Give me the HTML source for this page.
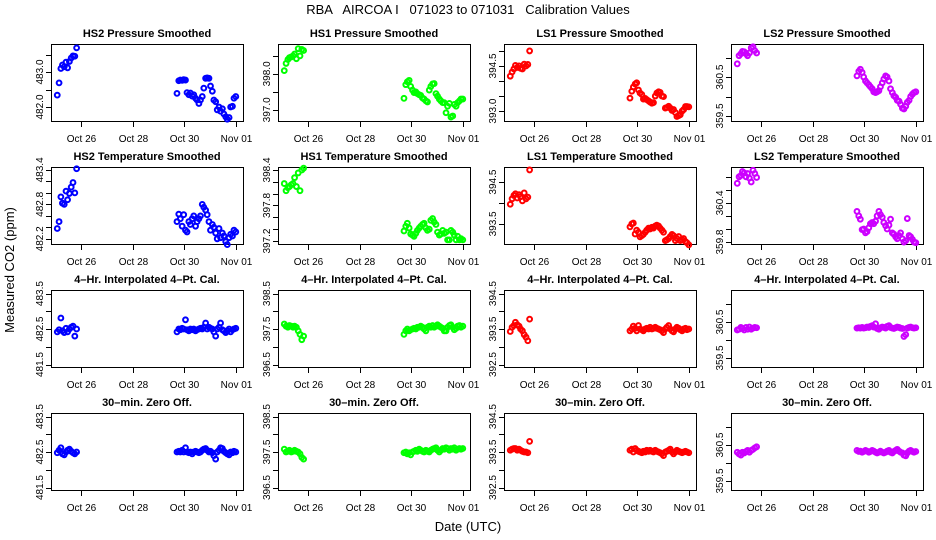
<!DOCTYPE html>
<html><head><meta charset="utf-8"><style>
html,body{margin:0;padding:0;background:#fff;}
svg{display:block;font-family:"Liberation Sans",sans-serif;}
</style></head>
<body>
<svg id="chart" width="936" height="540" viewBox="0 0 936 540" xmlns="http://www.w3.org/2000/svg">
<rect x="0" y="0" width="936" height="540" fill="#fff"/>
<text x="468" y="14" text-anchor="middle" font-size="13" style="white-space:pre" xml:space="preserve">RBA   AIRCOA I   071023 to 071031   Calibration Values</text>
<text transform="translate(14,270) rotate(-90)" text-anchor="middle" font-size="13">Measured CO2 (ppm)</text>
<text x="468" y="531" text-anchor="middle" font-size="13">Date (UTC)</text>
</svg>
<script>
const calTimes = [-0.92,-0.85,-0.78,-0.72,-0.65,-0.58,-0.52,-0.45,-0.38,-0.31,-0.24,-0.17,
3.72,3.79,3.85,3.92,3.98,4.05,4.11,4.18,4.24,4.31,4.37,4.44,4.50,4.57,4.63,4.70,4.76,4.83,4.89,4.96,5.02,5.09,5.15,5.22,5.28,5.35,5.41,5.48,5.54,5.61,5.67,5.74,5.80,5.87,5.93,6.00];
const xTickDays = [0,2,4,6];
const xTickLabels = ["Oct 26","Oct 28","Oct 30","Nov 01"];

const hs2Pressure = [482.34,482.69,483.1,483.2,483.15,483.28,483.12,483.3,483.4,483.46,483.45,483.69,
482.39,482.75,482.77,482.76,482.78,482.77,482.41,482.35,482.4,482.31,482.35,482.25,482.2,482.1,482.2,482.3,482.54,482.82,482.83,482.82,482.6,482.45,482.2,482.15,481.92,482.0,481.88,481.95,481.8,481.72,481.65,481.7,482.0,482.02,482.25,482.3];
const hs1Pressure = [398.09,398.29,398.4,398.45,398.47,398.5,398.55,398.42,398.7,398.5,398.68,398.65,
397.32,397.7,397.78,397.82,397.65,397.55,397.48,397.5,397.45,397.42,397.4,397.33,397.3,397.25,397.22,397.55,397.65,397.72,397.73,397.45,397.38,397.3,397.25,397.2,397.2,396.92,397.1,397.18,396.8,396.83,397.15,397.1,397.2,397.25,397.3,397.3];
const ls1Pressure = [394.16,394.3,394.4,394.52,394.45,394.5,394.42,394.4,394.56,394.5,394.55,395.0,
393.43,393.66,393.8,393.9,393.94,393.7,393.6,393.55,393.4,393.42,393.38,393.34,393.3,393.26,393.28,393.5,393.6,393.64,393.62,393.5,393.48,393.1,393.12,393.16,393.1,393.02,393.05,392.95,392.82,392.85,392.88,393.0,393.05,393.15,393.15,393.14];
const ls2Pressure = [360.84,361.05,361.1,361.16,361.15,361.1,361.05,361.12,361.25,361.28,361.18,361.12,
360.53,360.65,360.7,360.62,360.5,360.4,360.35,360.3,360.25,360.2,360.12,360.1,360.12,360.15,360.25,360.35,360.45,360.53,360.5,360.4,360.2,360.1,360.02,359.98,359.9,359.88,359.8,359.7,359.68,359.75,359.85,359.9,360.0,360.06,360.1,360.12];
const hs2Temp = [482.38,482.5,482.93,482.82,482.8,483.03,482.88,482.99,483.1,483.18,483.0,483.42,
482.5,482.63,482.55,482.42,482.62,482.35,482.32,482.5,482.45,482.55,482.6,482.42,482.5,482.55,482.6,482.8,482.75,482.7,482.62,482.5,482.35,482.45,482.4,482.3,482.2,482.38,482.22,482.3,482.25,482.15,482.1,482.22,482.28,482.25,482.35,482.32];
const hs1Temp = [398.17,398.05,398.1,398.12,398.15,398.17,398.27,398.12,398.35,398.05,398.4,398.43,
397.37,397.45,397.5,397.42,397.32,397.3,397.28,397.33,397.38,397.42,397.45,397.48,397.5,397.42,397.38,397.4,397.55,397.58,397.52,397.48,397.35,397.3,397.32,397.38,397.33,397.35,397.22,397.22,397.38,397.35,397.3,397.22,397.28,397.22,397.24,397.22];
const ls1Temp = [393.97,394.1,394.18,394.22,394.12,394.2,394.15,394.05,394.24,394.1,394.14,394.79,
393.43,393.5,393.52,393.26,393.35,393.3,393.19,393.22,393.25,393.3,393.35,393.4,393.38,393.42,393.4,393.45,393.47,393.45,393.4,393.35,393.3,393.1,393.12,393.15,393.2,393.25,393.22,393.1,393.15,393.2,393.1,393.12,393.15,393.08,393.05,393.0];
const ls2Temp = [360.7,360.8,360.82,360.88,360.86,360.8,360.85,360.78,360.72,360.9,360.85,360.79,
360.27,360.2,360.15,359.99,360.0,359.94,359.96,360.02,360.08,360.1,360.08,360.12,360.2,360.27,360.22,360.18,360.1,360.05,360.0,360.06,360.15,359.94,359.92,359.88,359.85,359.9,359.94,359.85,359.8,359.82,360.16,359.9,359.88,359.84,359.8,359.79];
const hs2Interp = [482.42,482.48,482.81,482.45,482.4,482.52,482.42,482.5,482.55,482.58,482.3,482.5,
482.42,482.5,482.48,482.52,482.5,482.76,482.48,482.45,482.5,482.48,482.5,482.45,482.48,482.5,482.52,482.5,482.55,482.67,482.5,482.55,482.52,482.5,482.42,482.3,482.5,482.55,482.67,482.48,482.45,482.4,482.45,482.5,482.42,482.48,482.5,482.52];
const hs1Interp = [397.64,397.58,397.55,397.6,397.58,397.55,397.58,397.55,397.45,397.35,397.2,397.3,
397.35,397.45,397.5,397.45,397.48,397.5,397.52,397.5,397.55,397.55,397.58,397.55,397.5,397.45,397.55,397.58,397.55,397.6,397.55,397.58,397.62,397.58,397.55,397.52,397.45,397.45,397.55,397.6,397.62,397.55,397.48,397.52,397.58,397.6,397.55,397.58];
const ls1Interp = [393.43,393.55,393.6,393.69,393.62,393.58,393.5,393.45,393.34,393.27,393.17,393.78,
393.45,393.5,393.58,393.52,393.45,393.6,393.5,393.48,393.45,393.5,393.52,393.5,393.55,393.5,393.52,393.55,393.52,393.5,393.48,393.45,393.4,393.5,393.55,393.6,393.5,393.45,393.42,393.5,393.55,393.52,393.48,393.45,393.5,393.52,393.48,393.5];
const ls2Interp = [360.28,360.3,360.35,360.32,360.28,360.35,360.3,360.36,360.3,360.33,360.35,360.34,
360.33,360.34,360.33,360.35,360.33,360.34,360.36,360.35,360.38,360.4,360.36,360.45,360.32,360.3,360.34,360.36,360.35,360.33,360.38,360.4,360.35,360.33,360.32,360.34,360.36,360.35,360.33,360.32,360.1,360.15,360.33,360.35,360.36,360.34,360.33,360.34];
const hs2Zero = [482.48,482.55,482.62,482.45,482.42,482.5,482.55,482.58,482.52,482.48,482.45,482.5,
482.5,482.52,482.5,482.55,482.5,482.62,482.5,482.48,482.5,482.45,482.5,482.52,482.5,482.48,482.5,482.55,482.58,482.6,482.55,482.5,482.52,482.48,482.4,482.3,482.5,482.55,482.62,482.6,482.52,482.48,482.45,482.42,482.5,482.48,482.52,482.5];
const hs1Zero = [397.58,397.5,397.52,397.55,397.5,397.52,397.55,397.52,397.5,397.45,397.35,397.3,
397.48,397.5,397.45,397.48,397.42,397.5,397.52,397.55,397.52,397.58,397.55,397.52,397.5,397.55,397.52,397.5,397.55,397.58,397.6,397.62,397.55,397.5,397.55,397.6,397.58,397.62,397.6,397.55,397.6,397.58,397.62,397.55,397.58,397.6,397.58,397.6];
const ls1Zero = [393.55,393.58,393.6,393.6,393.55,393.58,393.55,393.52,393.5,393.5,393.48,393.8,
393.55,393.58,393.5,393.6,393.55,393.52,393.5,393.48,393.52,393.5,393.55,393.52,393.55,393.52,393.5,393.55,393.52,393.5,393.48,393.45,393.4,393.5,393.52,393.55,393.58,393.5,393.45,393.5,393.55,393.52,393.5,393.48,393.5,393.52,393.5,393.48];
const ls2Zero = [360.3,360.25,360.22,360.3,360.28,360.32,360.35,360.3,360.35,360.38,360.42,360.45,
360.35,360.32,360.33,360.3,360.32,360.35,360.33,360.3,360.32,360.35,360.33,360.3,360.28,360.3,360.33,360.3,360.28,360.3,360.33,360.35,360.3,360.28,360.32,360.35,360.38,360.33,360.3,360.28,360.22,360.2,360.28,360.33,360.35,360.32,360.3,360.32];

const colLeft = [51,278,504,731];
const rowTop = [44,167,290,413];
const boxW = 192, boxH = 77;
const colors = ["#0000ff","#00ff00","#ff0000","#cc00ff"];

const panels = [
 {r:0,c:0,name:"hs2-pressure",title:"HS2 Pressure Smoothed",vals:hs2Pressure,lo:481.6,hi:483.8,ticks:[482.0,482.5,483.0,483.5],labels:["482.0","483.0"]},
 {r:0,c:1,name:"hs1-pressure",title:"HS1 Pressure Smoothed",vals:hs1Pressure,lo:396.69,hi:398.83,ticks:[397.0,397.5,398.0,398.5],labels:["397.0","398.0"]},
 {r:0,c:2,name:"ls1-pressure",title:"LS1 Pressure Smoothed",vals:ls1Pressure,lo:392.67,hi:395.23,ticks:[393.0,393.5,394.0,394.5,395.0],labels:["393.0","394.5"]},
 {r:0,c:3,name:"ls2-pressure",title:"LS2 Pressure Smoothed",vals:ls2Pressure,lo:359.37,hi:361.35,ticks:[359.5,360.0,360.5,361.0],labels:["359.5","360.5"]},
 {r:1,c:0,name:"hs2-temperature",title:"HS2 Temperature Smoothed",vals:hs2Temp,lo:482.11,hi:483.45,ticks:[482.2,482.4,482.6,482.8,483.0,483.2,483.4],labels:["482.2","482.8","483.4"]},
 {r:1,c:1,name:"hs1-temperature",title:"HS1 Temperature Smoothed",vals:hs1Temp,lo:397.15,hi:398.45,ticks:[397.2,397.4,397.6,397.8,398.0,398.2,398.4],labels:["397.2","397.8","398.4"]},
 {r:1,c:2,name:"ls1-temperature",title:"LS1 Temperature Smoothed",vals:ls1Temp,lo:393.02,hi:394.86,ticks:[393.5,394.0,394.5],labels:["393.5","394.5"]},
 {r:1,c:3,name:"ls2-temperature",title:"LS2 Temperature Smoothed",vals:ls2Temp,lo:359.77,hi:360.95,ticks:[359.8,360.0,360.2,360.4,360.6,360.8],labels:["359.8","360.4"]},
 {r:2,c:0,name:"hs2-interp",title:"4\u2013Hr. Interpolated 4\u2013Pt. Cal.",vals:hs2Interp,lo:481.43,hi:483.6,ticks:[481.5,482.0,482.5,483.0,483.5],labels:["481.5","482.5","483.5"]},
 {r:2,c:1,name:"hs1-interp",title:"4\u2013Hr. Interpolated 4\u2013Pt. Cal.",vals:hs1Interp,lo:396.43,hi:398.6,ticks:[396.5,397.0,397.5,398.0,398.5],labels:["396.5","397.5","398.5"]},
 {r:2,c:2,name:"ls1-interp",title:"4\u2013Hr. Interpolated 4\u2013Pt. Cal.",vals:ls1Interp,lo:392.43,hi:394.6,ticks:[392.5,393.0,393.5,394.0,394.5],labels:["392.5","393.5","394.5"]},
 {r:2,c:3,name:"ls2-interp",title:"4\u2013Hr. Interpolated 4\u2013Pt. Cal.",vals:ls2Interp,lo:359.25,hi:361.39,ticks:[359.5,360.0,360.5,361.0],labels:["359.5","360.5"]},
 {r:3,c:0,name:"hs2-zero",title:"30\u2013min. Zero Off.",vals:hs2Zero,lo:481.43,hi:483.6,ticks:[481.5,482.0,482.5,483.0,483.5],labels:["481.5","482.5","483.5"]},
 {r:3,c:1,name:"hs1-zero",title:"30\u2013min. Zero Off.",vals:hs1Zero,lo:396.43,hi:398.6,ticks:[396.5,397.0,397.5,398.0,398.5],labels:["396.5","397.5","398.5"]},
 {r:3,c:2,name:"ls1-zero",title:"30\u2013min. Zero Off.",vals:ls1Zero,lo:392.43,hi:394.6,ticks:[392.5,393.0,393.5,394.0,394.5],labels:["392.5","393.5","394.5"]},
 {r:3,c:3,name:"ls2-zero",title:"30\u2013min. Zero Off.",vals:ls2Zero,lo:359.25,hi:361.39,ticks:[359.5,360.0,360.5,361.0],labels:["359.5","360.5"]}
];

const NS = "http://www.w3.org/2000/svg";
const svg = document.getElementById("chart");
function mk(tag, attrs, parent){
  const e = document.createElementNS(NS, tag);
  for (const k in attrs) e.setAttribute(k, attrs[k]);
  parent.appendChild(e);
  return e;
}
panels.forEach(p => {
  const left = colLeft[p.c], top = rowTop[p.r], bottom = top + boxH;
  const xScale = d => left + 30 + d * 25.8;
  const yScale = v => bottom - (v - p.lo) / (p.hi - p.lo) * boxH;
  const g = mk("g", {}, svg);
  
  
  const t = mk("text", {x: left + boxW/2, y: top - 7, "text-anchor":"middle", "font-size":"11", "font-weight":"bold"}, g);
  t.textContent = p.title;
  
  
  const box = mk("rect", {x:left+0.5, y:top+0.5, width:boxW, height:boxH, fill:"none", stroke:"#000", "stroke-width":"1"}, g);
  
  
  xTickDays.forEach((d,i) => {
    const x = Math.round(xScale(d)) + 0.5;
    const tk = mk("line", {x1:x, x2:x, y1:bottom+0.5, y2:bottom+6, stroke:"#000"}, g);
    
    
    const lb = mk("text", {x:x, y:bottom+21, "text-anchor":"middle", "font-size":"10"}, g);
    lb.textContent = xTickLabels[i];
    
    
  });
  p.ticks.forEach(v => {
    const y = Math.round(yScale(v)) + 0.5;
    const tk = mk("line", {x1:left-5, x2:left+0.5, y1:y, y2:y, stroke:"#000"}, g);
    
    
  });
  p.labels.forEach(s => {
    const y = yScale(parseFloat(s));
    const lb = mk("text", {transform:"translate(" + (left-8) + "," + y + ") rotate(-90)", "text-anchor":"middle", "font-size":"10"}, g);
    lb.textContent = s;
    
    
  });
  const col = colors[p.c];
  p.vals.forEach((v,i) => {
    const pt = mk("circle", {cx:xScale(calTimes[i]), cy:yScale(v), r:2.4, fill:"none", stroke:col, "stroke-width":"2"}, g);
    
    
  });
});
</script>
</body></html>
